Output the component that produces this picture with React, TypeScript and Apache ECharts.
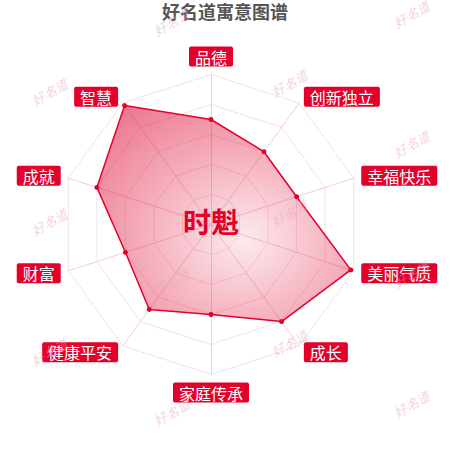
import React, { useEffect, useRef } from "react";
import * as echarts from "echarts";

// Data, listed clockwise from the top as displayed
const categories = ["品德", "创新独立", "幸福快乐", "美丽气质", "成长", "家庭传承", "健康平安", "财富", "成就", "智慧"];
const values = [70, 60, 60, 98, 80, 60, 70, 60, 80, 98];
const maxValue = 100;
const titleText = "好名道寓意图谱";
const centerText = "时魁";
const watermarkText = "好名道";

const RED = "#e3002b";
const FONT = "'Noto Sans CJK SC', 'Noto Sans', sans-serif";

export default function App() {
  const ref = useRef<HTMLDivElement>(null);
  useEffect(() => {
    if (!ref.current) return;
    const chart = echarts.init(ref.current, undefined, { renderer: "svg" });
    // ECharts lays radar indicators counter-clockwise, so reverse after the first
    const order = [0, ...categories.map((_, i) => i).slice(1).reverse()];
    const indicator = order.map((i) => ({ name: categories[i], max: maxValue }));
    const seriesValues = order.map((i) => values[i]);

    const marks: any[] = [];
    for (let r = 0; r < 7; r++) {
      const baseX = r % 2 === 0 ? 172 : 50;
      for (let c = 0; c < 2; c++) {
        const x = baseX + c * 240;
        const y = 27 + r * 65 - (x - 50) * 0.035;
        marks.push({
          type: "text",
          x,
          y,
          rotation: Math.PI / 6,
          z: 100,
          silent: true,
          style: {
            text: watermarkText,
            fill: "rgba(236,170,185,0.55)",
            font: "italic 13px 'DejaVu Serif', serif",
            align: "center",
            verticalAlign: "middle",
          },
        });
      }
    }

    chart.setOption({
      animation: false,
      title: {
        text: titleText,
        left: "center",
        top: 2,
        padding: 0,
        textStyle: { color: "#555", fontSize: 18, fontWeight: "bold", fontFamily: FONT },
      },
      radar: {
        center: [211, 224.5],
        radius: 150,
        startAngle: 90,
        splitNumber: 5,
        indicator,
        nameGap: 8,
        axisName: {
          color: "#fff",
          backgroundColor: RED,
          padding: [2, 6],
          borderRadius: 2,
          fontSize: 16,
          fontFamily: FONT,
        },
        axisLine: { lineStyle: { color: "#f3d0d8", width: 1 } },
        splitLine: { lineStyle: { color: "#f0c2cc", type: "dotted", width: 1 } },
        splitArea: { show: false },
      },
      graphic: [
        {
          type: "text",
          x: 211,
          y: 221,
          z: 50,
          style: {
            text: centerText,
            fill: RED,
            font: `bold 28px ${FONT}`,
            align: "center",
            verticalAlign: "middle",
          },
        },
        ...marks,
      ],
      series: [
        {
          type: "radar",
          symbol: "circle",
          symbolSize: 5,
          itemStyle: { color: RED },
          lineStyle: { color: RED, width: 1.5 },
          areaStyle: {
            color: {
              type: "radial",
              x: 0.58,
              y: 0.62,
              r: 0.85,
              colorStops: [
                { offset: 0, color: "rgba(225,0,45,0.08)" },
                { offset: 1, color: "rgba(220,10,50,0.6)" },
              ],
            },
            opacity: 1,
          },
          data: [{ value: seriesValues, name: centerText }],
        },
      ],
    });
    return () => chart.dispose();
  }, []);
  return (
    <div
      ref={ref}
      style={{ position: "fixed", left: 0, top: 0, width: 450, height: 450, background: "#fff" }}
    />
  );
}
